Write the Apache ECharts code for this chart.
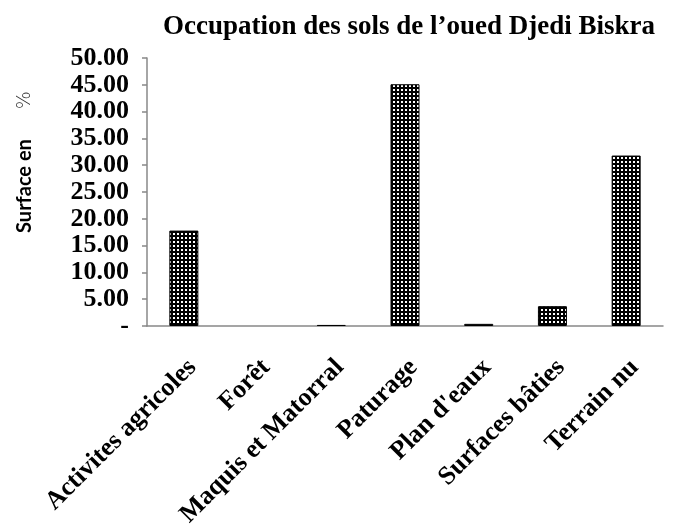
<!DOCTYPE html>
<html>
<head>
<meta charset="utf-8">
<script src="https://cdn.jsdelivr.net/npm/echarts@6/dist/echarts.min.js"></script>
<style>
    body { margin: 0; background: #fff; }
    #main { width: 677px; height: 528px; }
</style>
</head>
<body>
<div id="main"></div>
<script>
var categories = ['Activites agricoles', 'Forêt', 'Maquis et Matorral', 'Paturage', "Plan d'eaux", 'Surfaces bâties', 'Terrain nu'];
var surfaces = [17.8, 0, 0.2, 45.1, 0.4, 3.7, 31.8];
var yTicks = [0, 5, 10, 15, 20, 25, 30, 35, 40, 45, 50];

// motif pointillé des barres
function makeDots() {
    var c = document.createElement('canvas');
    c.width = 4;
    c.height = 4;
    var ctx = c.getContext('2d');
    ctx.fillStyle = '#000';
    ctx.fillRect(0, 0, 4, 4);
    ctx.fillStyle = '#fff';
    ctx.fillRect(1, 1, 2, 2);
    return c;
}

// pas de contour pour une barre nulle
var barData = surfaces.map(function (v) {
    return v === 0 ? { value: v, itemStyle: { borderWidth: 0 } } : v;
});

var myChart = echarts.init(document.getElementById('main'));
var serif = '"Liberation Serif", "Times New Roman", serif';
var option = {
    backgroundColor: '#fff',
    animation: false,
    title: {
        text: 'Occupation des sols de l\u2019oued Djedi Biskra',
        left: 404,
        top: 9,
        textAlign: 'center',
        textStyle: {
            fontFamily: serif,
            fontWeight: 'bold',
            fontSize: 27,
            color: '#000'
        }
    },
    grid: {
        left: 147,
        top: 58,
        width: 516,
        height: 268,
        outerBoundsMode: 'none'
    },
    xAxis: {
        type: 'category',
        data: categories,
        axisLine: { lineStyle: { color: '#888', width: 1.5 } },
        axisTick: { length: 10, lineStyle: { color: '#888', width: 1.5 } },
        axisLabel: {
            rotate: 45,
            interval: 0,
            margin: 46,
            padding: [0, -12, 0, 0],
            fontFamily: serif,
            fontWeight: 'bold',
            fontSize: 26,
            color: '#000'
        }
    },
    yAxis: {
        type: 'value',
        min: yTicks[0],
        max: yTicks[yTicks.length - 1],
        interval: 5,
        name: '{a|Surface en}{b|%}',
        nameLocation: 'middle',
        nameRotate: 90,
        nameGap: 112,
        nameTextStyle: {
            padding: [0, 0, 0, 60],
            rich: {
                a: { fontFamily: 'Lato, "Open Sans", sans-serif', fontWeight: 'bold', fontSize: 20, color: '#000' },
                b: { fontFamily: '"DejaVu Sans", sans-serif', fontWeight: 'lighter', fontSize: 19, color: '#333', padding: [0, 0, 0, 30] }
            }
        },
        splitLine: { show: false },
        axisLine: { show: true, lineStyle: { color: '#888', width: 1.5 } },
        axisTick: { show: true, length: 5, lineStyle: { color: '#888', width: 1.5 } },
        axisLabel: {
            margin: 18,
            fontFamily: serif,
            fontWeight: 'bold',
            fontSize: 26,
            color: '#000',
            formatter: function (v) {
                return v === 0 ? '-' : v.toFixed(2);
            }
        }
    },
    series: [
        {
            type: 'bar',
            data: barData,
            barWidth: 29,
            itemStyle: {
                color: { image: makeDots(), repeat: 'repeat' },
                borderColor: '#000',
                borderWidth: 1
            }
        }
    ]
};
myChart.setOption(option);
</script>
</body>
</html>
